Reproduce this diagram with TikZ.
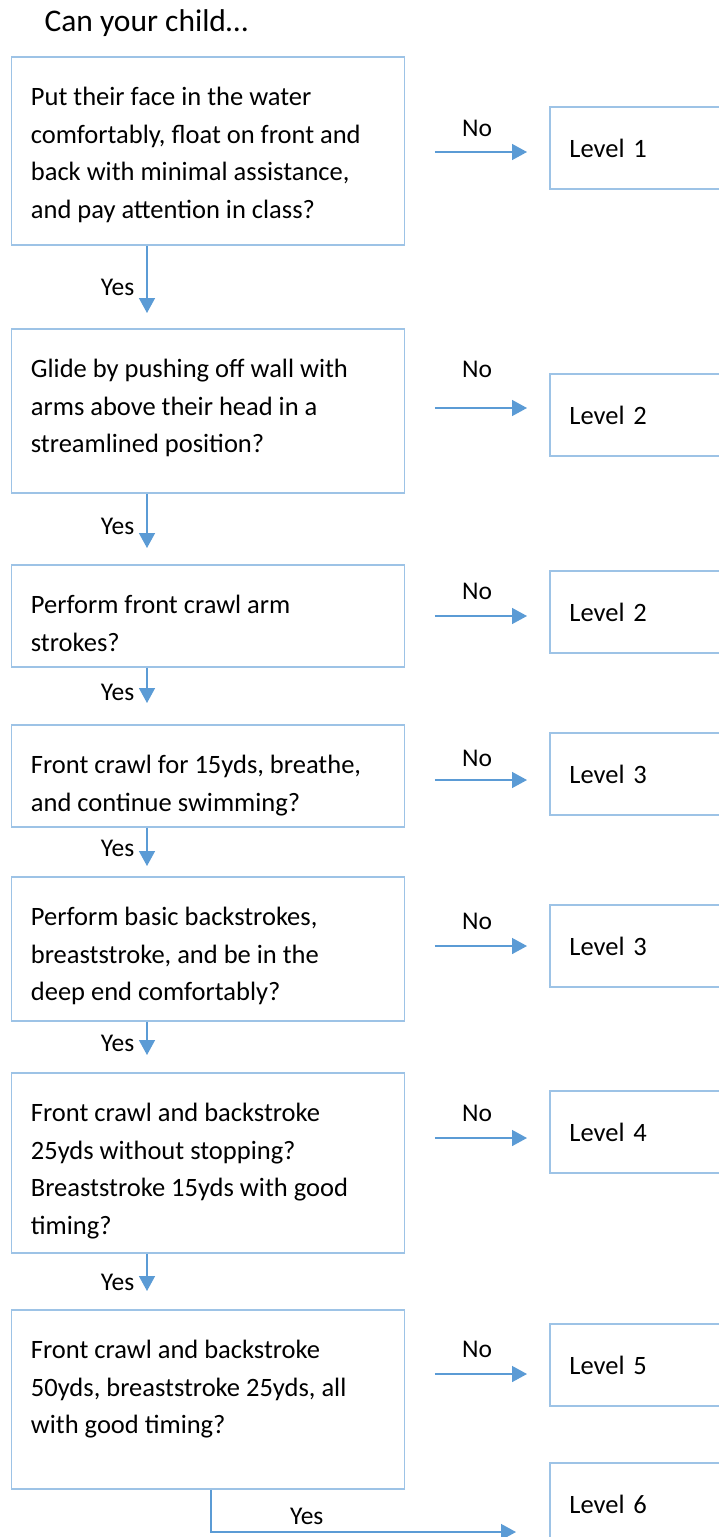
\documentclass[tikz,border=0pt]{standalone}
\usepackage{fontspec}
\setmainfont{Carlito}
\usetikzlibrary{arrows.meta}
\definecolor{boxblue}{RGB}{157,195,230}
\definecolor{arrowblue}{RGB}{91,155,213}
\newcommand{\qtext}[2]{\parbox[c][#1][t]{354pt}{\raggedright\rule{0pt}{49pt}#2}}

\begin{document}
\begin{tikzpicture}[x=1pt, y=-1pt,
    every node/.style = {font=\fontsize{26.5}{37.5}\selectfont},
    qbox/.style = {draw=boxblue, line width=1.8pt, anchor=north west,
      inner xsep=19.5pt, inner ysep=0pt},
    lvbox/.style = {draw=boxblue, line width=1.8pt, anchor=north west,
      minimum width=200pt, minimum height=82pt, text width=161pt,
      align=left, inner xsep=19.5pt},
    arr/.style = {draw=arrowblue, line width=1.5pt,
      -{Triangle[length=15pt, width=16pt]}},
    noarr/.style = {arr, shorten <=29.5pt, shorten >=22pt},
    lbl/.style = {inner sep=0pt, font=\fontsize{25.5}{30}\selectfont}]
    \path[use as bounding box, clip] (0,0) rectangle (719,1537);

    \node[anchor=base west, font=\fontsize{31.5}{36}\selectfont] (title) at (41,31.5) {Can your child…};

    \node[qbox] (q1) at (10.5,56) {\qtext{188pt}{Put their face in the water\\
      comfortably, float on front and\\back with minimal assistance,\\and pay attention in class?}};
    \node[qbox] (q2) at (10.5,328) {\qtext{164pt}{Glide by pushing off wall with\\
      arms above their head in a\\streamlined position?}};
    \node[qbox] (q3) at (10.5,564) {\qtext{102pt}{Perform front crawl arm\\strokes?}};
    \node[qbox] (q4) at (10.5,724) {\qtext{102pt}{Front crawl for 15yds, breathe,\\
      and continue swimming?}};
    \node[qbox] (q5) at (10.5,876) {\qtext{144pt}{Perform basic backstrokes,\\
      breaststroke, and be in the\\deep end comfortably?}};
    \node[qbox] (q6) at (10.5,1072) {\qtext{180pt}{Front crawl and backstroke\\
      25yds without stopping?\\Breaststroke 15yds with good\\timing?}};
    \node[qbox] (q7) at (10.5,1309) {\qtext{179pt}{Front crawl and backstroke\\
      50yds, breaststroke 25yds, all\\with good timing?}};

    \node[lvbox] (l1) at (549,106) {Level 1};
    \node[lvbox] (l2) at (549,373) {Level 2};
    \node[lvbox] (l3) at (549,570) {Level 2};
    \node[lvbox] (l4) at (549,732) {Level 3};
    \node[lvbox] (l5) at (549,904) {Level 3};
    \node[lvbox] (l6) at (549,1090) {Level 4};
    \node[lvbox] (l7) at (549,1323) {Level 5};
    \node[lvbox] (l8) at (549,1462) {Level 6};

    \coordinate (n1) at (0,152);
    \coordinate (n2) at (0,408);
    \coordinate (n3) at (0,616);
    \coordinate (n4) at (0,780);
    \coordinate (n5) at (0,946);
    \coordinate (n6) at (0,1138);
    \coordinate (n7) at (0,1374);
    \draw[noarr] (q1.east |- n1) -- (l1.west |- n1) node[lbl, midway, above=15pt] {No};
    \draw[noarr] (q2.east |- n2) -- (l2.west |- n2) node[lbl, midway, above=30pt] {No};
    \draw[noarr] (q3.east |- n3) -- (l3.west |- n3) node[lbl, midway, above=16pt] {No};
    \draw[noarr] (q4.east |- n4) -- (l4.west |- n4) node[lbl, midway, above=13pt] {No};
    \draw[noarr] (q5.east |- n5) -- (l5.west |- n5) node[lbl, midway, above=16pt] {No};
    \draw[noarr] (q6.east |- n6) -- (l6.west |- n6) node[lbl, midway, above=16pt] {No};
    \draw[noarr] (q7.east |- n7) -- (l7.west |- n7) node[lbl, midway, above=16pt] {No};

    \coordinate (y1) at (147,313);
    \coordinate (y2) at (147,548);
    \coordinate (y3) at (147,703);
    \coordinate (y4) at (147,866);
    \coordinate (y5) at (147,1055);
    \coordinate (y6) at (147,1291);
    \coordinate (c7) at (211,1532);
    \coordinate (y7) at (516,1532);
    \draw[arr] (q1.south -| y1) -- (y1) node[lbl, pos=.62, left=12pt] {Yes};
    \draw[arr] (q2.south -| y2) -- (y2) node[lbl, pos=.61, left=12pt] {Yes};
    \draw[arr] (q3.south -| y3) -- (y3) node[lbl, pos=.70, left=12pt] {Yes};
    \draw[arr] (q4.south -| y4) -- (y4) node[lbl, pos=.53, left=12pt] {Yes};
    \draw[arr] (q5.south -| y5) -- (y5) node[lbl, pos=.66, left=12pt] {Yes};
    \draw[arr] (q6.south -| y6) -- (y6) node[lbl, pos=.77, left=12pt] {Yes};
    \draw[arr] (q7.south -| c7) |- (y7) node[lbl, pos=.657, above=7pt] {Yes};
\end{tikzpicture}
\end{document}
